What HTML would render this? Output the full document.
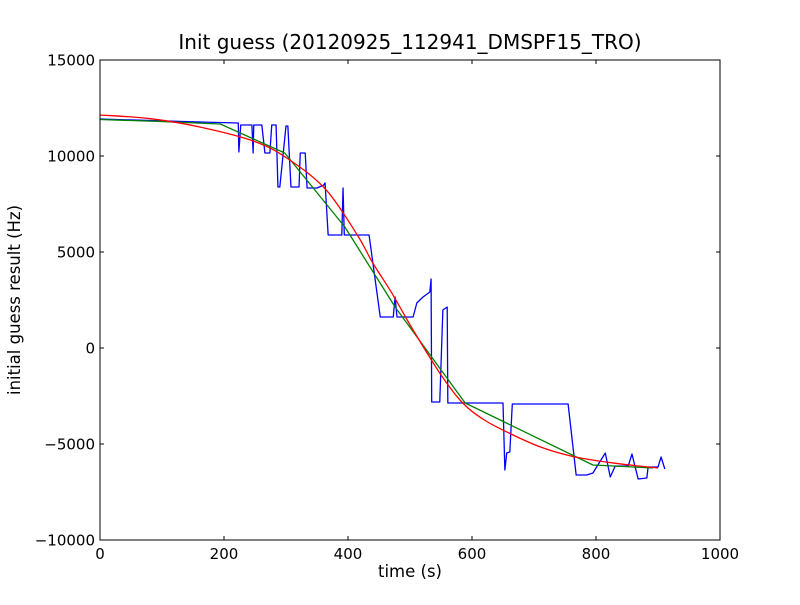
<!DOCTYPE html>
<html><head><meta charset="utf-8"><style>
body{margin:0;background:#fff;}
svg text{font-family:"DejaVu Sans","Liberation Sans",sans-serif;fill:#000;}
</style></head><body>
<svg id="chart" width="800" height="600"></svg>
<script>
const xTicks=[0,200,400,600,800,1000];
const yTicks=[-10000,-5000,0,5000,10000,15000];
const blueT=[0,161,223,224,227,245,247,248,261,266,274,277,284,287,290,300,303,308,321,323,331,334,350,361,363,368,390,392,394,434,452,473,476,479,505,511,521,532,534,535,548,553,560,561,650,653,656,661,665,755,768,785,795,815,823,831,852,858,868,882,884,900,905,911];
const blueV=[11927,11771,11719,10208,11615,11615,10156,11615,11615,10156,10156,11615,11615,8385,8385,11563,11563,8385,8385,10156,10156,8333,8333,8490,8600,5885,5885,8333,5885,5885,1615,1615,2656,1615,1615,2344,2656,2917,3594,-2813,-2813,1979,2135,-2865,-2865,-6354,-5469,-5417,-2917,-2917,-6615,-6615,-6510,-5469,-6719,-6146,-6146,-5521,-6823,-6771,-6198,-6198,-5677,-6302];
const greenT=[0,97,194,298,395,476,589,795,892];
const greenV=[11900,11800,11667,10156,6302,2135,-2865,-6094,-6250];
const redT=[0,80,161,250,306,365,415,440,470,505,550,585,620,661,710,763,830,900];
const redV=[12135,11950,11510,10750,9792,8229,5885,4427,2900,938,-1400,-2865,-3750,-4450,-5150,-5650,-6000,-6250];
const L=100,R=720,T=60,B=540;
const sx=t=>L+(t-0)/(1000-0)*(R-L);
const sy=v=>B-(v+10000)/25000*(B-T);
const svg=document.getElementById('chart');
const NS='http://www.w3.org/2000/svg';
function mk(tag,attrs,parent){const e=document.createElementNS(NS,tag);for(const k in attrs)e.setAttribute(k,attrs[k]);(parent||svg).appendChild(e);return e;}
function line(t,v,color,name){
  const p=mk('polyline',{points:t.map((x,i)=>sx(x)+','+sy(v[i])).join(' '),fill:'none',stroke:color,'stroke-width':1.3,'stroke-linejoin':'round'});
  
  
}
function smooth(t,v,color,name){
  const P=t.map((x,i)=>[sx(x),sy(v[i])]);
  let d='M'+P[0][0]+','+P[0][1];
  for(let i=0;i<P.length-1;i++){
    const p0=P[Math.max(0,i-1)],p1=P[i],p2=P[i+1],p3=P[Math.min(P.length-1,i+2)];
    const c1=[p1[0]+(p2[0]-p0[0])/6,p1[1]+(p2[1]-p0[1])/6];
    const c2=[p2[0]-(p3[0]-p1[0])/6,p2[1]-(p3[1]-p1[1])/6];
    d+=' C'+c1+' '+c2+' '+p2;
  }
  const p=mk('path',{d:d,fill:'none',stroke:color,'stroke-width':1.3});
  
  
}
line(blueT,blueV,'#0000ff','series-measured');
line(greenT,greenV,'#008000','series-piecewise-fit');
smooth(redT,redV,'#ff0000','series-smooth-fit');
const frame=mk('rect',{x:L,y:T,width:R-L,height:B-T,fill:'none',stroke:'#000','stroke-width':1});


xTicks.forEach(t=>{
  const x=sx(t);
  mk('line',{x1:x,y1:B,x2:x,y2:B-4,stroke:'#000'});
  mk('line',{x1:x,y1:T,x2:x,y2:T+4,stroke:'#000'});
  const tx=mk('text',{x:x,y:B+19,'text-anchor':'middle','font-size':15});
  tx.textContent=t;
  
  
});
yTicks.forEach(v=>{
  const y=sy(v);
  mk('line',{x1:L,y1:y,x2:L+4,y2:y,stroke:'#000'});
  mk('line',{x1:R,y1:y,x2:R-4,y2:y,stroke:'#000'});
  const tx=mk('text',{x:L-5,y:y+5.5,'text-anchor':'end','font-size':15});
  tx.textContent=v<0?'\u2212'+(-v):v;
  
  
});
const title=mk('text',{x:410,y:49,'text-anchor':'middle','font-size':20});
title.textContent='Init guess (20120925_112941_DMSPF15_TRO)';


const xl=mk('text',{x:410,y:577,'text-anchor':'middle','font-size':16.5});
xl.textContent='time (s)';


const yl=mk('text',{x:0,y:0,'text-anchor':'middle','font-size':16.5,transform:'translate(20,300) rotate(-90)'});
yl.textContent='initial guess result (Hz)';


</script>
</body></html>
